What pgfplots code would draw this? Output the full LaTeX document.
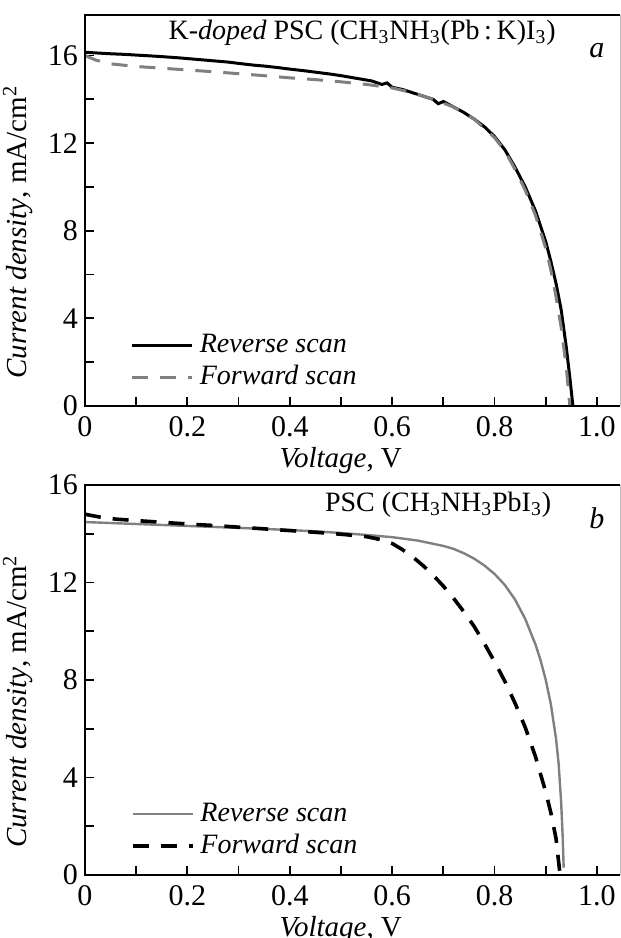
\documentclass[border=0pt]{standalone}
\usepackage{fontspec}
\setmainfont{Liberation Serif}
\usepackage{pgfplots}
\pgfplotsset{compat=1.18}

\definecolor{curvegray}{HTML}{808080}

\pgfplotsset{
  ivstyle/.style={
    scale only axis, width=267.5pt,
    xmin=0, xmax=1.045, ymin=0,
    xtick={0,0.2,0.4,0.6,0.8,1.0},
    xticklabels={\textrm{0},\textrm{0.2},\textrm{0.4},\textrm{0.6},\textrm{0.8},\textrm{1.0}},
    minor xtick={0.1,0.3,0.5,0.7,0.9},
    ytick={0,4,8,12,16},
    yticklabels={\textrm{0},\textrm{4},\textrm{8},\textrm{12},\textrm{16}},
    minor ytick={2,6,10,14},
    tick align=inside, tick pos=left,
    major tick length=4.5pt, minor tick length=4.5pt,
    tick style={black, line width=0.9pt},
    axis line style={draw=none},
    tick label style={font=\fontsize{15}{17}\selectfont},
    xticklabel style={yshift=-1.5pt},
    label style={font=\fontsize{14.5}{16}\selectfont},
    /pgf/number format/assume math mode=true,
    xlabel={\textit{Voltage}, V},
    ylabel={\textit{Current density}, mA/cm\textsuperscript{2}},
    xlabel style={at={(axis description cs:0.478,-0.14)}, anchor=center},
    ylabel style={at={(axis description cs:-0.084,0.445)}, anchor=south},
    clip=false,
    legend cell align=left,
    legend style={draw=none, fill=none, inner sep=0pt,
      font=\fontsize{14}{16}\selectfont\itshape,
      nodes={inner sep=0pt, text height=10pt, text depth=3pt}, row sep=3pt},
    legend image code/.code={\draw[#1] (0pt,0pt) -- (30pt,0pt); \path (33pt,0pt);},
  }
}

\begin{document}
\begin{tikzpicture}
% panel a
\begin{axis}[ivstyle, at={(42.5pt,266pt)}, anchor=south west,
  height=195.5pt, ymax=17.85,
  legend style={at={(rel axis cs:0.085,0.115)}, anchor=west}]
\addplot[black, line width=1.5pt] coordinates {
(0,16.15)(0.02,16.12)(0.05,16.08)(0.08,16.05)(0.1,16.02)(0.13,15.98)(0.15,15.95)
(0.18,15.9)(0.2,15.86)(0.23,15.8)(0.25,15.76)(0.28,15.7)(0.3,15.64)(0.33,15.56)
(0.35,15.52)(0.38,15.44)(0.4,15.38)(0.43,15.3)(0.45,15.24)(0.48,15.15)(0.5,15.08)
(0.52,15.0)(0.54,14.92)(0.56,14.84)(0.58,14.68)(0.59,14.75)(0.6,14.55)(0.62,14.45)
(0.64,14.3)(0.66,14.15)(0.68,14.0)(0.69,13.8)(0.7,13.9)(0.72,13.65)(0.74,13.4)
(0.76,13.1)(0.78,12.75)(0.8,12.3)(0.82,11.7)(0.84,10.9)(0.86,10.0)(0.88,8.9)
(0.9,7.5)(0.91,6.6)(0.92,5.6)(0.93,4.4)(0.94,2.7)(0.947,1.3)(0.953,0)};
\addlegendentry{Reverse scan}
\addplot[curvegray, line width=1.5pt, dash pattern=on 8pt off 6pt] coordinates {
(0,16.0)(0.02,15.8)(0.05,15.62)(0.1,15.5)(0.15,15.42)(0.2,15.34)(0.25,15.26)
(0.3,15.17)(0.35,15.08)(0.4,14.98)(0.45,14.9)(0.5,14.8)(0.55,14.68)(0.6,14.52)
(0.64,14.3)(0.68,14.0)(0.72,13.65)(0.76,13.1)(0.8,12.25)(0.82,11.65)(0.84,10.8)
(0.86,9.85)(0.88,8.7)(0.9,7.2)(0.91,6.2)(0.92,5.0)(0.93,3.6)(0.94,1.8)(0.947,0)};
\addlegendentry{Forward scan}
\draw[gray!50, line width=0.5pt] (rel axis cs:1,0) -- (rel axis cs:1,1);
\draw[black, line width=1.1pt] (rel axis cs:1,1) -- (rel axis cs:0,1) -- (rel axis cs:0,0) -- (rel axis cs:1,0);
\node[font=\fontsize{14}{16}\selectfont] at (rel axis cs:0.518,0.955)
  {K-\textit{doped} PSC (CH\textsubscript{3}NH\textsubscript{3}(Pb\,:\,K)I\textsubscript{3})};
\node[font=\fontsize{15}{16}\selectfont\itshape] at (rel axis cs:0.957,0.91) {a};
\end{axis}

% panel b
\begin{axis}[ivstyle, at={(42.5pt,31.5pt)}, anchor=south west,
  height=195pt, ymax=16,
  legend style={at={(rel axis cs:0.085,0.115)}, anchor=west}]
\addplot[curvegray, line width=1.2pt] coordinates {
(0,14.48)(0.05,14.44)(0.1,14.4)(0.15,14.36)(0.2,14.32)(0.25,14.28)(0.3,14.24)
(0.35,14.2)(0.4,14.15)(0.45,14.1)(0.5,14.03)(0.55,13.95)(0.6,13.86)(0.65,13.72)
(0.7,13.5)(0.72,13.38)(0.74,13.2)(0.76,12.98)(0.78,12.7)(0.8,12.35)(0.82,11.9)
(0.84,11.3)(0.86,10.5)(0.88,9.45)(0.89,8.8)(0.9,8.0)(0.91,7.0)(0.92,5.6)
(0.925,4.6)(0.93,3.0)(0.933,1.6)(0.935,0.3)};
\addlegendentry{Reverse scan}
\addplot[black, line width=1.8pt, dash pattern=on 8pt off 6pt] coordinates {
(0,14.8)(0.03,14.68)(0.06,14.6)(0.1,14.54)(0.15,14.47)(0.2,14.4)(0.25,14.34)
(0.3,14.27)(0.35,14.2)(0.4,14.13)(0.45,14.06)(0.5,13.98)(0.55,13.88)(0.58,13.75)
(0.6,13.6)(0.62,13.35)(0.64,13.05)(0.66,12.7)(0.68,12.3)(0.7,11.85)(0.72,11.35)
(0.74,10.8)(0.76,10.2)(0.78,9.5)(0.8,8.75)(0.82,7.95)(0.84,7.05)(0.86,6.05)
(0.88,4.85)(0.9,3.4)(0.91,2.55)(0.92,1.5)(0.928,0)};
\addlegendentry{Forward scan}
\draw[gray!50, line width=0.5pt] (rel axis cs:1,0) -- (rel axis cs:1,1);
\draw[black, line width=1.1pt] (rel axis cs:1,1) -- (rel axis cs:0,1) -- (rel axis cs:0,0) -- (rel axis cs:1,0);
\node[font=\fontsize{14}{16}\selectfont] at (rel axis cs:0.66,0.949)
  {PSC (CH\textsubscript{3}NH\textsubscript{3}PbI\textsubscript{3})};
\node[font=\fontsize{15}{16}\selectfont\itshape] at (rel axis cs:0.957,0.915) {b};
\end{axis}

\pgfresetboundingbox
\path[use as bounding box] (0,0) rectangle (310.5pt,469pt);
\end{tikzpicture}
\end{document}
